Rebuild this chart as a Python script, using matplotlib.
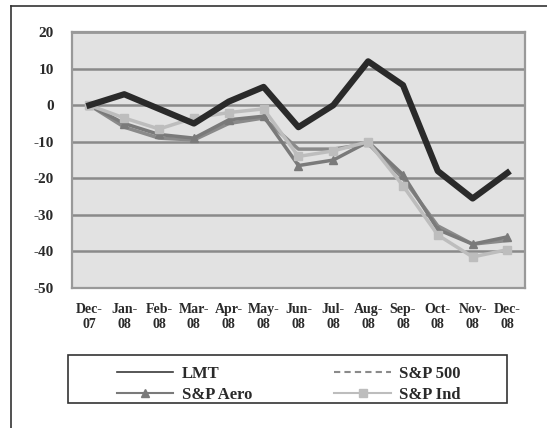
import matplotlib
matplotlib.use("Agg")
import matplotlib.pyplot as plt
from matplotlib.patches import Rectangle
from matplotlib.lines import Line2D

# data
months = ["Dec-\n07", "Jan-\n08", "Feb-\n08", "Mar-\n08", "Apr-\n08", "May-\n08", "Jun-\n08",
          "Jul-\n08", "Aug-\n08", "Sep-\n08", "Oct-\n08", "Nov-\n08", "Dec-\n08"]
lmt = [0, 3, -1, -5, 1, 5, -6, 0, 12, 5.5, -18, -25.5, -18.5]
sp500 = [0, -6, -9, -9.5, -5, -3.5, -12, -12, -10.5, -20, -33, -38, -37]
sp_aero = [0, -5, -8, -9, -4, -3, -16.5, -15, -10, -19, -34, -38, -36]
sp_ind = [0, -3.5, -6.5, -3.5, -2, -1, -14, -12.5, -10, -22, -35.5, -41.5, -39.5]
yticks = [20, 10, 0, -10, -20, -30, -40, -50]

plt.rcParams['font.family'] = ['Liberation Serif', 'DejaVu Serif']

fig = plt.figure(figsize=(5.47, 4.28), dpi=100)
ax = fig.add_axes([0.1316, 0.327, 0.828, 0.598])
ax.set_facecolor('#e2e2e2')

x = list(range(len(months)))
ax.plot(x, lmt, color='#2a2a2a', lw=4.5, zorder=5, label='LMT')
ax.plot(x, sp500, color='#8a8a8a', lw=2.5, zorder=3, label='S&P 500')
ax.plot(x, sp_aero, color='#7a7a7a', lw=2.5, marker='^', ms=6, zorder=3, label='S&P Aero')
ax.plot(x, sp_ind, color='#bdbdbd', lw=2.5, marker='s', ms=6, zorder=4, label='S&P Ind')

ax.set_ylim(-50, 20)
ax.set_xlim(-0.5, len(months) - 0.5)
ax.set_yticks(yticks)
ax.set_yticklabels([str(v) for v in yticks], fontsize=11, fontweight='bold', color='#2a2a2a')
ax.set_xticks(x)
ax.set_xticklabels(months, fontsize=10, fontweight='bold', color='#2a2a2a', linespacing=1.15)
ax.tick_params(length=0)
ax.tick_params(axis='x', pad=11)
ax.tick_params(axis='y', pad=13)
ax.grid(axis='y', color='#8a8a8a', lw=1.8)
ax.set_axisbelow(True)
for s in ax.spines.values():
    s.set_color('#999999')
    s.set_linewidth(1.6)

# legend: frameless legend plus a separate box
handles = [
    Line2D([], [], color='#3a3a3a', lw=1.2),
    Line2D([], [], color='#7a7a7a', lw=1.5, marker='^', ms=6),
    Line2D([], [], color='#8a8a8a', lw=1.5, ls=(0, (3, 2))),
    Line2D([], [], color='#bdbdbd', lw=1.5, marker='s', ms=6),
]
labels = ['LMT', 'S&P Aero', 'S&P 500', 'S&P Ind']
leg = fig.legend(handles, labels, ncol=2, loc='upper left', bbox_to_anchor=(0.213, 0.145),
                 prop={'weight': 'bold', 'size': 12}, frameon=False,
                 handlelength=3.4, columnspacing=4.95, handletextpad=0.5,
                 borderpad=0.0, borderaxespad=0.0, labelspacing=0.3)
for t in leg.get_texts():
    t.set_color('#2a2a2a')
fig.add_artist(Rectangle((68 / 547, 1 - 403 / 428), (507 - 68) / 547, 48 / 428,
                         transform=fig.transFigure, fill=False, edgecolor='#333333', lw=1.2))

# outer border lines
fig.add_artist(Line2D([0.02, 0.02], [0.0, 0.985], color='#333333', lw=1.2, transform=fig.transFigure))
fig.add_artist(Line2D([0.02, 1.0], [0.985, 0.985], color='#333333', lw=1.2, transform=fig.transFigure))

fig.savefig('out.png', dpi=100)
